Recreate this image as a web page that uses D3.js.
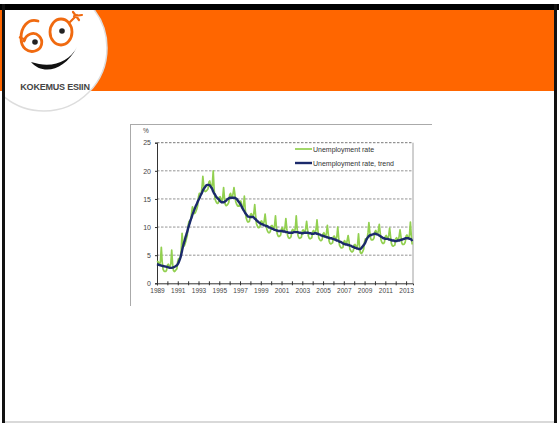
<!DOCTYPE html>
<html>
<head>
<meta charset="utf-8">
<script src="https://d3js.org/d3.v7.min.js"></script>
<style>
  body { margin: 0; background: #fff; }
  svg { display: block; font-family: Arial, "Liberation Sans", sans-serif; }
</style>
</head>
<body>
<div id="slide"></div>
<script>
// chart data: monthly values by year, Jan 1989 -> Aug 2013
const years = d3.range(1989, 2014);
const rateMonthly = [
  [3.8, 3.9, 3.5, 3.2, 4.0, 6.4, 3.8, 2.5, 2.2, 2.1, 2.1, 2.3],
  [3.2, 3.4, 3.0, 2.8, 3.5, 5.9, 3.5, 2.3, 2.1, 2.2, 2.4, 2.6],
  [3.9, 4.4, 4.4, 4.6, 5.9, 8.9, 7.2, 6.6, 6.8, 7.3, 7.9, 8.5],
  [10.3, 11.0, 11.1, 11.3, 12.5, 13.6, 13.2, 12.4, 12.5, 12.8, 13.2, 13.8],
  [15.4, 16.0, 15.9, 15.8, 17.0, 19.0, 17.5, 16.4, 16.3, 16.4, 16.6, 16.8],
  [18.0, 18.2, 17.5, 16.9, 17.6, 20.0, 16.8, 15.1, 14.6, 14.3, 14.2, 14.3],
  [15.3, 15.4, 14.8, 14.4, 15.3, 17.0, 15.2, 14.0, 13.8, 13.9, 14.1, 14.4],
  [15.7, 16.0, 15.4, 15.2, 16.0, 17.0, 15.9, 14.5, 14.1, 13.8, 13.7, 13.7],
  [14.6, 14.6, 13.8, 13.3, 13.8, 15.5, 13.2, 11.7, 11.2, 10.9, 10.9, 11.1],
  [12.2, 12.4, 12.0, 11.8, 12.5, 14.0, 12.1, 10.6, 10.2, 9.9, 9.9, 10.0],
  [11.0, 11.1, 10.7, 10.4, 11.1, 12.3, 10.9, 9.6, 9.2, 9.0, 9.0, 9.2],
  [10.2, 10.3, 9.9, 9.6, 10.3, 12.0, 10.1, 8.8, 8.4, 8.3, 8.4, 8.6],
  [9.7, 9.9, 9.4, 9.2, 10.0, 11.5, 9.8, 8.5, 8.1, 8.0, 8.1, 8.3],
  [9.4, 9.6, 9.3, 9.1, 9.9, 12.0, 9.8, 8.5, 8.1, 8.0, 8.1, 8.2],
  [9.3, 9.5, 9.2, 9.0, 9.8, 11.0, 9.7, 8.4, 8.0, 7.9, 8.0, 8.1],
  [9.2, 9.4, 9.1, 8.9, 9.7, 11.3, 9.5, 8.1, 7.8, 7.6, 7.6, 7.8],
  [8.8, 9.0, 8.5, 8.3, 9.0, 10.3, 8.8, 7.5, 7.1, 7.0, 7.1, 7.2],
  [8.3, 8.4, 8.0, 7.7, 8.4, 10.0, 8.2, 6.8, 6.5, 6.3, 6.3, 6.4],
  [7.4, 7.6, 7.1, 6.9, 7.7, 8.5, 7.5, 6.1, 5.8, 5.6, 5.6, 5.8],
  [6.8, 6.9, 6.5, 6.2, 7.0, 8.8, 6.8, 5.5, 5.3, 5.4, 5.7, 6.1],
  [7.4, 7.9, 7.9, 8.0, 9.0, 10.8, 9.2, 8.0, 7.7, 7.7, 7.8, 8.1],
  [9.2, 9.4, 8.9, 8.7, 9.4, 10.5, 9.1, 7.7, 7.3, 7.1, 7.1, 7.3],
  [8.3, 8.5, 8.1, 7.9, 8.6, 9.8, 8.4, 7.1, 6.7, 6.6, 6.7, 6.8],
  [7.9, 8.1, 7.8, 7.6, 8.4, 9.5, 8.4, 7.2, 6.9, 6.9, 7.0, 7.3],
  [8.4, 8.6, 8.2, 8.0, 8.7, 10.9, 8.5, 6.9]
];
const trendMonthly = [
  [3.4, 3.35, 3.3, 3.25, 3.2, 3.15, 3.1, 3.07, 3.03, 3.0, 2.97, 2.93],
  [2.9, 2.85, 2.8, 2.75, 2.75, 2.75, 2.8, 2.85, 2.9, 3.0, 3.1, 3.2],
  [3.4, 3.7, 4.1, 4.5, 5.1, 5.8, 6.5, 7.1, 7.6, 8.2, 8.7, 9.2],
  [9.8, 10.3, 10.8, 11.3, 11.7, 12.2, 12.6, 13.0, 13.4, 13.8, 14.1, 14.5],
  [14.8, 15.1, 15.5, 15.8, 16.1, 16.5, 16.8, 17.0, 17.2, 17.4, 17.5, 17.5],
  [17.5, 17.4, 17.2, 17.0, 16.7, 16.3, 16.0, 15.8, 15.5, 15.3, 15.1, 15.0],
  [14.8, 14.6, 14.5, 14.4, 14.4, 14.4, 14.5, 14.6, 14.7, 14.9, 15.0, 15.1],
  [15.2, 15.2, 15.2, 15.2, 15.2, 15.2, 15.2, 15.1, 15.0, 14.8, 14.6, 14.4],
  [14.2, 13.9, 13.6, 13.3, 13.0, 12.8, 12.5, 12.3, 12.1, 11.9, 11.85, 11.8],
  [11.8, 11.8, 11.8, 11.8, 11.7, 11.5, 11.4, 11.2, 11.1, 10.9, 10.8, 10.7],
  [10.6, 10.5, 10.5, 10.4, 10.3, 10.3, 10.2, 10.2, 10.1, 10.0, 9.9, 9.9],
  [9.8, 9.7, 9.7, 9.6, 9.5, 9.5, 9.4, 9.4, 9.3, 9.3, 9.3, 9.3],
  [9.3, 9.3, 9.2, 9.2, 9.2, 9.1, 9.1, 9.1, 9.0, 9.0, 9.0, 9.0],
  [9.0, 9.0, 9.1, 9.1, 9.1, 9.1, 9.1, 9.1, 9.0, 9.0, 9.0, 8.9],
  [8.9, 8.9, 9.0, 9.0, 9.0, 9.0, 9.0, 9.0, 8.9, 8.9, 8.9, 8.8],
  [8.8, 8.8, 8.9, 8.9, 8.9, 8.8, 8.8, 8.7, 8.7, 8.6, 8.5, 8.5],
  [8.4, 8.4, 8.3, 8.3, 8.2, 8.2, 8.1, 8.1, 8.0, 8.0, 8.0, 7.9],
  [7.9, 7.8, 7.8, 7.7, 7.6, 7.6, 7.5, 7.4, 7.4, 7.3, 7.2, 7.1],
  [7.0, 7.0, 6.9, 6.9, 6.9, 6.8, 6.8, 6.7, 6.7, 6.6, 6.5, 6.5],
  [6.4, 6.3, 6.3, 6.2, 6.2, 6.1, 6.1, 6.1, 6.2, 6.4, 6.6, 6.8],
  [7.0, 7.3, 7.7, 8.0, 8.2, 8.4, 8.5, 8.6, 8.6, 8.7, 8.7, 8.8],
  [8.8, 8.8, 8.7, 8.7, 8.6, 8.5, 8.4, 8.3, 8.2, 8.1, 8.0, 8.0],
  [7.9, 7.9, 7.9, 7.9, 7.8, 7.8, 7.7, 7.7, 7.6, 7.6, 7.6, 7.5],
  [7.5, 7.5, 7.6, 7.6, 7.6, 7.7, 7.7, 7.8, 7.8, 7.9, 7.9, 8.0],
  [8.0, 8.0, 8.0, 8.0, 7.9, 7.9, 7.8, 7.5]
];
const yTicks = [0, 5, 10, 15, 20, 25];
const xLabelYears = d3.range(1989, 2014, 2);
const seriesNames = ["Unemployment rate", "Unemployment rate, trend"];
const seriesColors = ["#92d050", "#1b2a6b"];

//flatten to {t, v} points
function toPoints(nested) {
  let pts = [];
  nested.forEach(function (row, yi) {
    row.forEach(function (v, m) {
      pts.push({ t: years[yi] + m / 12, v: v });
    });
  });
  return pts;
}
const rate = toPoints(rateMonthly);
const trend = toPoints(trendMonthly);

const W = 559, H = 423;
const svg = d3.select("#slide").append("svg")
  .attr("width", W).attr("height", H);

// ---- slide background ----
svg.append("rect").attr("width", W).attr("height", H).attr("fill", "#fff");
svg.append("rect").attr("x", 0).attr("y", 10).attr("width", 555).attr("height", 81).attr("fill", "#ff6600");

// ---- logo (clipped to the slide) ----
svg.append("clipPath").attr("id", "slideClip")
  .append("rect").attr("x", 5).attr("y", 10).attr("width", 549).attr("height", 413);
const logo = svg.append("g").attr("clip-path", "url(#slideClip)");
logo.append("circle").attr("cx", 44).attr("cy", 48).attr("r", 63)
  .attr("fill", "#fff").attr("stroke", "#ddd").attr("stroke-width", 1.5);
// the "6"
logo.append("path")
  .attr("d", "M38,21 C28,18 21,27 21,38 C21,48 28,53 35,51 C42,49 44,41 39,36 C34,31 26,34 24,41")
  .attr("fill", "none").attr("stroke", "#f06a10").attr("stroke-width", 2.8).attr("stroke-linecap", "round");
logo.append("path").attr("d", "M19,37 L26,40").attr("stroke", "#f06a10").attr("stroke-width", 2);
// the "0" / glasses
logo.append("ellipse").attr("cx", 61).attr("cy", 32).attr("rx", 11).attr("ry", 13)
  .attr("fill", "none").attr("stroke", "#f06a10").attr("stroke-width", 2.8);
logo.append("path").attr("d", "M70,22 L77,15 M73,12 L79,20 M74,16 L82,15")
  .attr("stroke", "#f06a10").attr("stroke-width", 2.2).attr("stroke-linecap", "round");
// eyes
logo.append("circle").attr("cx", 35).attr("cy", 42).attr("r", 2.8).attr("fill", "#222");
logo.append("circle").attr("cx", 62).attr("cy", 31).attr("r", 2.8).attr("fill", "#222");
// smile
logo.append("path")
  .attr("d", "M31,62 C42,75 64,72 77,47 C70,60 56,67 39,64 Z")
  .attr("fill", "#111");
logo.append("text").attr("x", 55).attr("y", 90).attr("text-anchor", "middle")
  .attr("font-size", 9).attr("font-weight", 600).attr("fill", "#444")
  .attr("letter-spacing", -0.2)
  .text("KOKEMUS ESIIN");

// frame of the slide
svg.append("rect").attr("x", 0).attr("y", 4).attr("width", W).attr("height", 6).attr("fill", "#000");
svg.append("rect").attr("x", 2).attr("y", 4).attr("width", 3).attr("height", H).attr("fill", "#111");
svg.append("rect").attr("x", 554).attr("y", 4).attr("width", 3).attr("height", H).attr("fill", "#111");
svg.append("line").attr("x1", 5).attr("x2", 554).attr("y1", 422).attr("y2", 422)
  .attr("stroke", "#ccc").attr("stroke-width", 1.5);

// ---- chart frame ----
svg.append("line").attr("x1", 130).attr("x2", 432).attr("y1", 124.5).attr("y2", 124.5)
  .attr("stroke", "#aaa").attr("stroke-width", 1);
svg.append("line").attr("x1", 130.5).attr("x2", 130.5).attr("y1", 124).attr("y2", 306)
  .attr("stroke", "#aaa").attr("stroke-width", 1);

// ---- chart ----
const x = d3.scaleLinear().domain([1989, 2013 + 8 / 12]).range([157, 413]);
const y = d3.scaleLinear().domain([0, 25]).range([283.3, 142.7]);

const chart = svg.append("g");

// gridlines
chart.selectAll(".grid").data(yTicks.filter(d => d > 0)).enter()
  .append("line")
  .attr("x1", x.range()[0]).attr("x2", x.range()[1])
  .attr("y1", d => y(d)).attr("y2", d => y(d))
  .attr("stroke", d => d == 25 ? "#555" : "#777")
  .attr("stroke-width", 0.8)
  .attr("stroke-dasharray", "2.5,1.5");

// right border
chart.append("line").attr("x1", x.range()[1]).attr("x2", x.range()[1])
  .attr("y1", y(25)).attr("y2", y(0)).attr("stroke", "#888").attr("stroke-width", 0.8);

// y axis
const yAxis = chart.append("g").attr("transform", "translate(" + x.range()[0] + ",0)")
  .call(d3.axisLeft(y).tickValues(yTicks).tickSize(2).tickPadding(4));
yAxis.select(".domain").attr("stroke", "#333");
yAxis.selectAll("line").attr("stroke", "#333");
yAxis.selectAll("text").attr("font-size", 7).attr("fill", "#444");

chart.append("text").attr("x", 146).attr("y", 133).attr("text-anchor", "middle")
  .attr("font-size", 6.5).attr("fill", "#444").text("%");

// x axis
const xAxis = chart.append("g").attr("transform", "translate(0," + y(0) + ")")
  .call(d3.axisBottom(x).tickValues(d3.range(1989, 2014)).tickSize(2).tickPadding(3)
    .tickFormat(d => xLabelYears.includes(d) ? d : ""));
xAxis.select(".domain").attr("stroke", "#333");
xAxis.selectAll("line").attr("stroke", "#333").attr("y1", -2);
xAxis.selectAll("text").attr("font-size", 6.5).attr("fill", "#444");

// series
const line = d3.line().x(d => x(d.t)).y(d => y(d.v));
chart.append("path").datum(rate)
  .attr("d", line)
  .attr("fill", "none").attr("stroke", seriesColors[0]).attr("stroke-width", 1.7)
  .attr("stroke-linejoin", "round");
chart.append("path").datum(trend)
  .attr("d", line.curve(d3.curveMonotoneX))
  .attr("fill", "none").attr("stroke", seriesColors[1]).attr("stroke-width", 2.4)
  .attr("stroke-linejoin", "round");

// legend
const legend = chart.selectAll(".legend").data(seriesNames).enter()
  .append("g")
  .attr("transform", (d, i) => "translate(295," + (149 + i * 14) + ")");
legend.append("line").attr("x1", 0).attr("x2", 17).attr("y1", 0).attr("y2", 0)
  .attr("stroke", (d, i) => seriesColors[i]).attr("stroke-width", (d, i) => i ? 2.4 : 1.7);
legend.append("text").attr("x", 18).attr("y", 2.5)
  .attr("font-size", 7).attr("fill", "#333").text(d => d);
</script>
</body>
</html>
